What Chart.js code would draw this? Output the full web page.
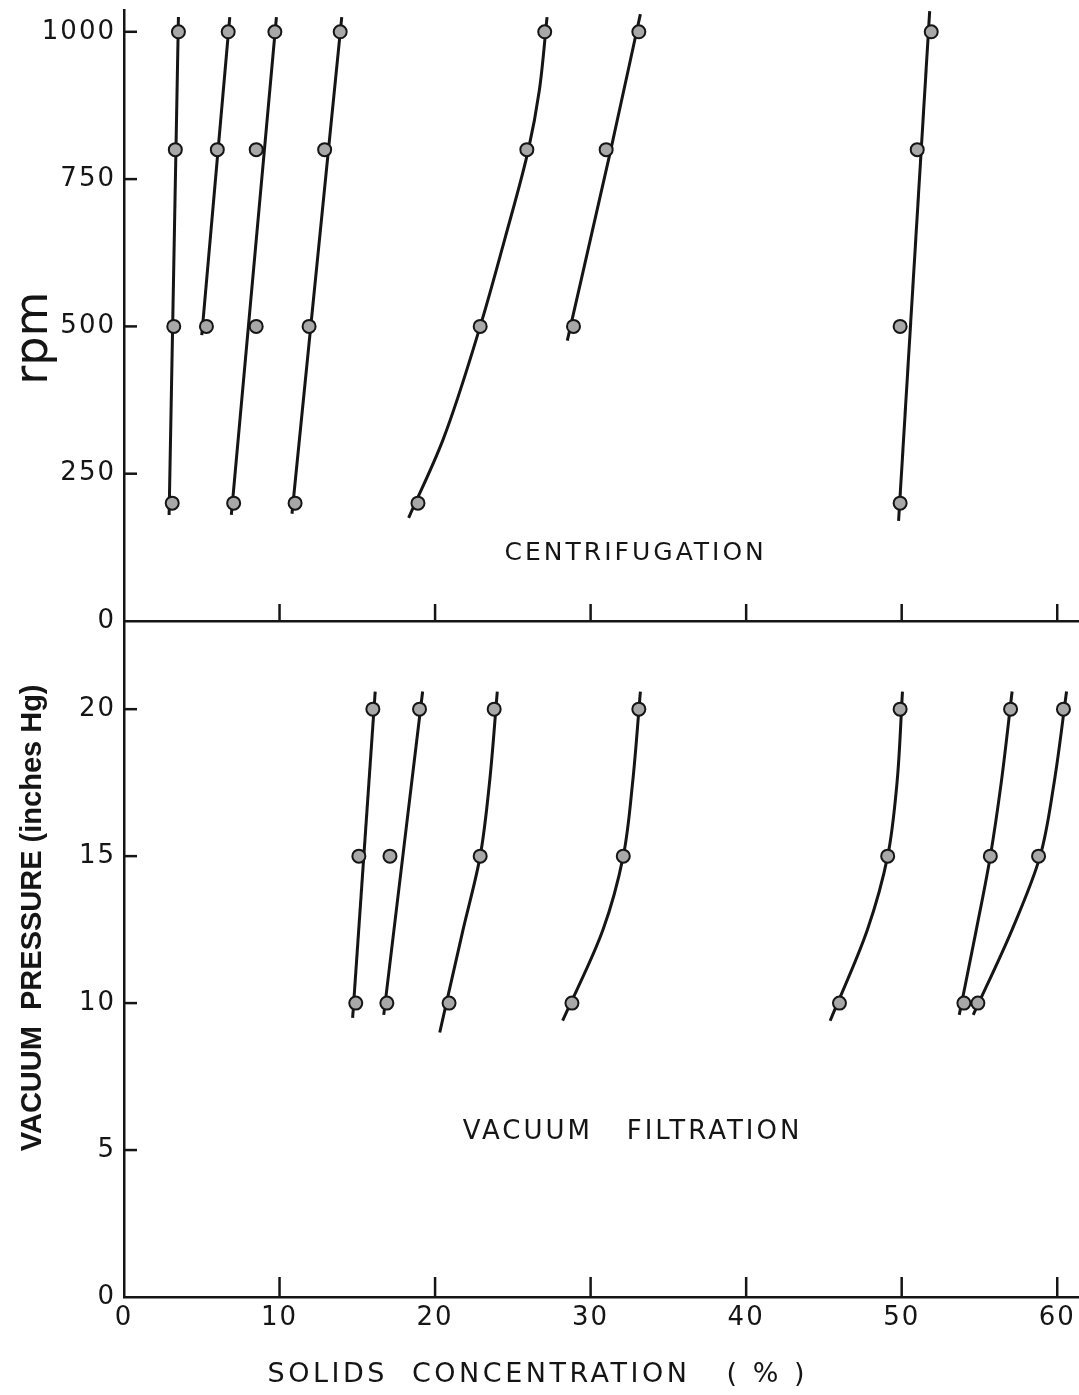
<!DOCTYPE html>
<html lang="en">
<head>
<meta charset="UTF-8">
<title>Centrifugation and vacuum filtration</title>
<script src="https://cdn.jsdelivr.net/npm/chart.js@4.4.1/dist/chart.umd.min.js"></script>
<style>
    html, body { margin: 0; padding: 0; background: #fff; overflow: hidden; }
    #wrap { position: relative; width: 1079px; height: 1395px; }
    #topChart { position: absolute; left: 0; top: 0; }
    #bottomChart { position: absolute; left: 0; top: 600px; }
</style>
</head>
<body>
<div id="wrap">
    <canvas id="topChart" width="1079" height="640"></canvas>
    <canvas id="bottomChart" width="1079" height="795"></canvas>
</div>
<script>
    // centrifugation: solids % measured at each rpm (null = not measured)
    const rpmLevels = [200, 500, 800, 1000];
    const centPoints = [
        [3.1, 3.2, 3.3, 3.5],
        [null, 5.3, 6.0, 6.7],
        [7.05, 8.5, 8.5, 9.7],
        [11.0, 11.9, 12.9, 13.9],
        [18.9, 22.9, 25.9, 27.05],
        [null, 28.9, 31.0, 33.1],
        [49.9, 49.9, 51.0, 51.9]
    ];
    // hand drawn curves (solids %, rpm)
    const centCurveX = [[2.9, 3.5], [5.0, 6.8], [6.9, 9.8], [10.8, 14.0],
        [18.3, 20.5, 22.9, 24.5, 26.0, 26.7, 27.2], [28.5, 31.3, 33.2], [49.8, 51.8]];
    const centCurveY = [[180, 1025], [485, 1025], [180, 1025], [182, 1025],
        [175, 307, 500, 650, 800, 900, 1025], [476, 800, 1030], [170, 1035]];

    // vacuum filtration: solids % at each vacuum (inches Hg)
    const vacLevels = [10, 15, 20];
    const vacPoints = [
        [14.9, 15.1, 16.0],
        [16.9, 17.1, 19.0],
        [20.9, 22.9, 23.8],
        [28.8, 32.1, 33.1],
        [46.0, 49.1, 49.9],
        [54.0, 55.7, 57.0],
        [54.9, 58.8, 60.4]
    ];
    const vacCurveX = [[14.7, 16.15], [16.7, 19.2],
        [20.3, 21.8, 22.9, 23.5, 24.0],
        [28.2, 30.8, 32.1, 32.7, 33.2],
        [45.4, 47.8, 49.1, 49.7, 50.05],
        [53.7, 54.8, 55.7, 56.4, 57.1],
        [54.6, 57.1, 58.9, 59.8, 60.6]];
    const vacCurveY = [[9.5, 20.6], [9.6, 20.6],
        [9.0, 12.5, 15, 17.5, 20.6],
        [9.4, 12.5, 15, 17.5, 20.6],
        [9.4, 12.5, 15, 17.5, 20.6],
        [9.6, 12.5, 15, 17.5, 20.6],
        [9.6, 12.5, 15, 17.5, 20.6]];

    const rpmTicks = [0, 250, 500, 750, 1000];
    const vacTicks = [0, 5, 10, 15, 20];
    const solidsTicks = [0, 10, 20, 30, 40, 50, 60];

    const INK = '#151515';
    const FONT = "'DejaVu Sans', sans-serif";

    // inward tick marks + free text, placed through the chart scales
    const paperPlugin = {
        id: 'paper',
        beforeDraw(chart) {
            chart.ctx.letterSpacing = '2px';
        },
        afterDraw(chart, args, opts) {
            const ctx = chart.ctx;
            const x = chart.scales.x, y = chart.scales.y;
            ctx.save();
            ctx.strokeStyle = INK;
            ctx.lineWidth = 2.5;
            opts.xTicks.forEach(v => {
                const px = x.getPixelForValue(v);
                ctx.beginPath();
                ctx.moveTo(px, x.top);
                ctx.lineTo(px, x.top - opts.xTickLen);
                ctx.stroke();
            });
            opts.yTicks.forEach(v => {
                const py = y.getPixelForValue(v);
                ctx.beginPath();
                ctx.moveTo(y.right, py);
                ctx.lineTo(y.right + opts.yTickLen, py);
                ctx.stroke();
            });
            ctx.fillStyle = INK;
            ctx.textAlign = 'center';
            ctx.textBaseline = 'middle';
            opts.labels.forEach(l => {
                ctx.save();
                ctx.font = l.font;
                ctx.letterSpacing = l.spacing || '0px';
                ctx.translate(x.getPixelForValue(l.x), y.getPixelForValue(l.y));
                if (l.rotate) ctx.rotate(-Math.PI / 2);
                ctx.fillText(l.text, 0, 0);
                ctx.restore();
            });
            ctx.restore();
            ctx.letterSpacing = '0px';
        }
    };

    function buildSets(levels, points, curveX, curveY) {
        const sets = [];
        curveX.forEach((xs, i) => {
            sets.push({
                showLine: true,
                indexAxis: 'y',
                cubicInterpolationMode: 'monotone',
                data: xs.map((v, j) => ({ x: v, y: curveY[i][j] })),
                borderColor: INK,
                borderWidth: 3,
                pointRadius: 0,
                order: 2
            });
        });
        points.forEach(row => {
            sets.push({
                data: row.map((v, j) => v == null ? null : { x: v, y: levels[j] }).filter(Boolean),
                pointRadius: 6.5,
                pointBackgroundColor: '#a8a8a8',
                pointBorderColor: INK,
                pointBorderWidth: 2,
                order: 1
            });
        });
        return sets;
    }

    function makeChart(id, cfg) {
        return new Chart(document.getElementById(id), {
            type: 'scatter',
            data: { datasets: buildSets(cfg.levels, cfg.points, cfg.curveX, cfg.curveY) },
            options: {
                responsive: false,
                animation: false,
                events: [],
                layout: { autoPadding: false, padding: { top: cfg.padTop, left: 0, right: 0, bottom: 0 } },
                plugins: {
                    legend: { display: false },
                    tooltip: { enabled: false },
                    paper: cfg.paper
                },
                scales: {
                    x: {
                        type: 'linear', min: 0, max: 61.4,
                        afterBuildTicks: s => { s.ticks = solidsTicks.map(v => ({ value: v })); },
                        afterFit: s => { s.height = cfg.xHeight; s.paddingLeft = 0; s.paddingRight = 0; },
                        grid: { display: false, drawTicks: false },
                        border: { color: INK, width: 2.5 },
                        ticks: { display: cfg.xLabels, padding: 6, color: INK, font: { family: FONT, size: 26 } }
                    },
                    y: {
                        type: 'linear', min: 0, max: cfg.yMax,
                        afterBuildTicks: s => { s.ticks = cfg.yTickValues.map(v => ({ value: v })); },
                        afterFit: s => { s.width = 124; s.paddingTop = 0; s.paddingBottom = 0; },
                        grid: { display: false, drawTicks: false },
                        border: { color: INK, width: 2.5 },
                        ticks: { padding: 8, color: INK, font: { family: FONT, size: 26 }, callback: v => String(v) }
                    }
                }
            },
            plugins: [paperPlugin]
        });
    }

    makeChart('topChart', {
        levels: rpmLevels, points: centPoints, curveX: centCurveX, curveY: centCurveY,
        padTop: 10, xHeight: 19, xLabels: false, yMax: 1037, yTickValues: rpmTicks,
        paper: {
            xTicks: [10, 20, 30, 40, 50, 60], xTickLen: 17,
            yTicks: [250, 500, 750, 1000], yTickLen: 13,
            labels: [
                { text: 'rpm', x: -5.7, y: 480, font: "46px " + FONT, rotate: true },
                { text: 'CENTRIFUGATION', x: 32.9, y: 115, font: "25px " + FONT, spacing: '3px' }
            ]
        }
    });

    makeChart('bottomChart', {
        levels: vacLevels, points: vacPoints, curveX: vacCurveX, curveY: vacCurveY,
        padTop: 21, xHeight: 98, xLabels: true, yMax: 23, yTickValues: vacTicks,
        paper: {
            xTicks: [10, 20, 30, 40, 50, 60], xTickLen: 20,
            yTicks: [5, 10, 15, 20], yTickLen: 13,
            labels: [
                { text: 'VACUUM  PRESSURE (inches Hg)', x: -5.85, y: 12.9, font: "bold 29px 'Liberation Sans', sans-serif", rotate: true },
                { text: 'VACUUM   FILTRATION', x: 32.7, y: 5.6, font: "26px " + FONT, spacing: '3px' },
                { text: 'SOLIDS  CONCENTRATION   ( % )', x: 26.6, y: -2.65, font: "27px " + FONT, spacing: '3.5px' }
            ]
        }
    });
</script>
</body>
</html>
